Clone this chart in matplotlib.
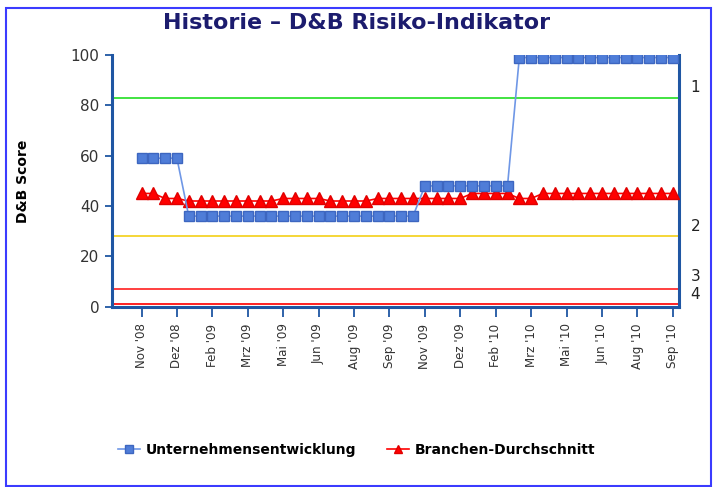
import matplotlib
matplotlib.use("Agg")
import matplotlib.pyplot as plt
from matplotlib.patches import Rectangle
from matplotlib.transforms import blended_transform_factory

tick_labels = ["Nov '08", "Dez '08", "Feb '09", "Mrz '09", "Mai '09", "Jun '09",
               "Aug '09", "Sep '09", "Nov '09", "Dez '09", "Feb '10", "Mrz '10",
               "Mai '10", "Jun '10", "Aug '10", "Sep '10"]

unternehmen = [59] * 4 + [36] * 20 + [48] * 8 + [99] * 14
branche = ([45] * 2 + [43] * 2 + [42] * 8 + [43] * 4 + [42] * 4 + [43] * 8
           + [45] * 4 + [43] * 2 + [45] * 12)

grenzen = [83, 28, 7, 1]
grenz_farben = ["#33e033", "#f5d327", "#ff3030", "#ff1010"]
klassen = ["1", "2", "3", "4"]
klassen_pos = [87, 32, 12, 5]

x = list(range(len(unternehmen)))

fig = plt.figure(figsize=(7.17, 4.87), dpi=100)
ax = fig.add_axes([0.1562, 0.3702, 0.7912, 0.5168])

# Schwellenwerte
for g, c in zip(grenzen, grenz_farben):
    ax.axhline(g, color=c, lw=1.3, zorder=1)

ax.plot(x, branche, color="#ff0000", lw=1.2, marker="^", markersize=8,
        markerfacecolor="#ff0000", markeredgecolor="#e00000",
        label="Branchen-Durchschnitt", zorder=3)
ax.plot(x, unternehmen, color="#6f97e6", lw=1.2, marker="s", markersize=7.5,
        markerfacecolor="#4f7dd8", markeredgecolor="#3d66c0",
        label="Unternehmensentwicklung", zorder=4)

ax.set_ylim(0, 100)
ax.set_xlim(-2.5, 45.55)
ax.set_yticks([0, 20, 40, 60, 80, 100])
ax.set_xticks(x[::3])
ax.set_xticklabels(tick_labels, rotation=90)

spine_col = "#1f56a3"
for s in ["left", "right", "bottom"]:
    ax.spines[s].set_color(spine_col)
    ax.spines[s].set_linewidth(2.2)
ax.spines["top"].set_visible(False)
ax.tick_params(axis="y", colors=spine_col, length=5, width=1.3, labelcolor="#333333",
               labelsize=11, pad=4)
ax.tick_params(axis="x", colors=spine_col, length=7, width=1.3, labelcolor="#333333",
               labelsize=8.6, pad=5)

ax.set_ylabel("D&B Score", fontsize=10, fontweight="bold", labelpad=29)

# Risikoklassen rechts
trans = blended_transform_factory(ax.transAxes, ax.transData)
for k, p in zip(klassen, klassen_pos):
    ax.text(1.02, p, k, transform=trans, fontsize=11, color="#222222",
            va="center", ha="left")

fig.text(0.497, 0.953, "Historie \u2013 D&B Risiko-Indikator", ha="center", va="center",
         fontsize=16, color="#1c1c6e", fontweight="bold")

handles, labels = ax.get_legend_handles_labels()
fig.legend(handles[::-1], labels[::-1], loc="center", bbox_to_anchor=(0.497, 1 - 450 / 487),
           ncol=2, frameon=False, prop={"weight": "bold", "size": 10},
           handlelength=1.6, markerscale=0.8, columnspacing=2.2, handletextpad=0.4)

fig.patches.append(Rectangle((0.0088, 0.003), 0.983, 0.981, transform=fig.transFigure,
                             fill=False, edgecolor="#3b3bff", lw=1.5))

fig.savefig("out.png", dpi=100)
